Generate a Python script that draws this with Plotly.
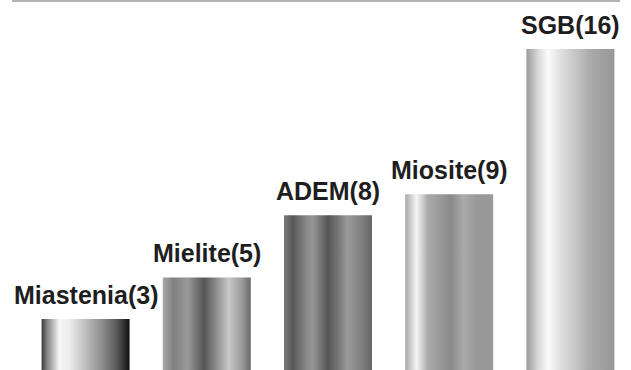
import plotly.graph_objects as go

categories = ["Miastenia", "Mielite", "ADEM", "Miosite", "SGB"]
values = [3, 5, 8, 9, 16]
labels = [f"{c}({v})" for c, v in zip(categories, values)]

# cylinder-like shading for each bar (style)
shades = [
    [[0, "#3a3a3a"], [0.06, "#808080"], [0.2, "#f7f7f7"], [0.32, "#ececec"],
     [0.5, "#bdbdbd"], [0.7, "#8a8a8a"], [0.86, "#565656"], [1, "#111111"]],
    [[0, "#a8a8a8"], [0.12, "#808080"], [0.28, "#9a9a9a"], [0.47, "#555555"],
     [0.6, "#8a8a8a"], [0.75, "#c8c8c8"], [0.9, "#9a9a9a"], [1, "#6a6a6a"]],
    [[0, "#7a7a7a"], [0.1, "#585858"], [0.27, "#8e8e8e"], [0.33, "#959595"],
     [0.5, "#555555"], [0.62, "#777777"], [0.72, "#9a9a9a"], [0.85, "#858585"], [1, "#666666"]],
    [[0, "#a8a8a8"], [0.13, "#f5f5f5"], [0.26, "#a9a9a9"], [0.42, "#979797"],
     [0.52, "#8a8a8a"], [0.66, "#aaaaaa"], [0.82, "#989898"], [1, "#9a9a9a"]],
    [[0, "#9a9a9a"], [0.14, "#dcdcdc"], [0.25, "#fbfbfb"], [0.4, "#dedede"],
     [0.52, "#cccccc"], [0.72, "#ababab"], [1, "#979797"]],
]

bar_w = 0.726

fig = go.Figure()
for i, (v, cs) in enumerate(zip(values, shades)):
    x0, x1 = i - bar_w / 2, i + bar_w / 2
    fig.add_trace(go.Scatter(
        x=[x0, x1, x1, x0, x0], y=[0, 0, v, v, 0],
        mode="lines", line=dict(width=0), fill="toself",
        fillgradient=dict(type="horizontal", colorscale=cs),
        hoverinfo="skip", showlegend=False,
    ))

for i, (v, t) in enumerate(zip(values, labels)):
    fig.add_annotation(
        x=i, y=v, text=t, showarrow=False, yanchor="bottom", yshift=8,
        font=dict(family="Liberation Sans, Arial, sans-serif", size=25,
                  color="#1e1e1e", weight="bold"),
    )

fig.add_shape(type="line", xref="paper", yref="paper",
              x0=-0.0215, x1=0.982, y0=1, y1=1,
              line=dict(color="#9a9a9a", width=1.5))

fig.update_layout(
    width=631, height=370,
    margin=dict(l=25, r=0, t=1, b=0),
    paper_bgcolor="white", plot_bgcolor="white",
    xaxis=dict(range=[-0.5, 4.5], visible=False, fixedrange=True),
    yaxis=dict(range=[0.544, 18.31], visible=False, fixedrange=True),
    showlegend=False,
)

fig.write_html("out.html", config={"displayModeBar": False},
               post_script="document.body.style.margin='0';")
